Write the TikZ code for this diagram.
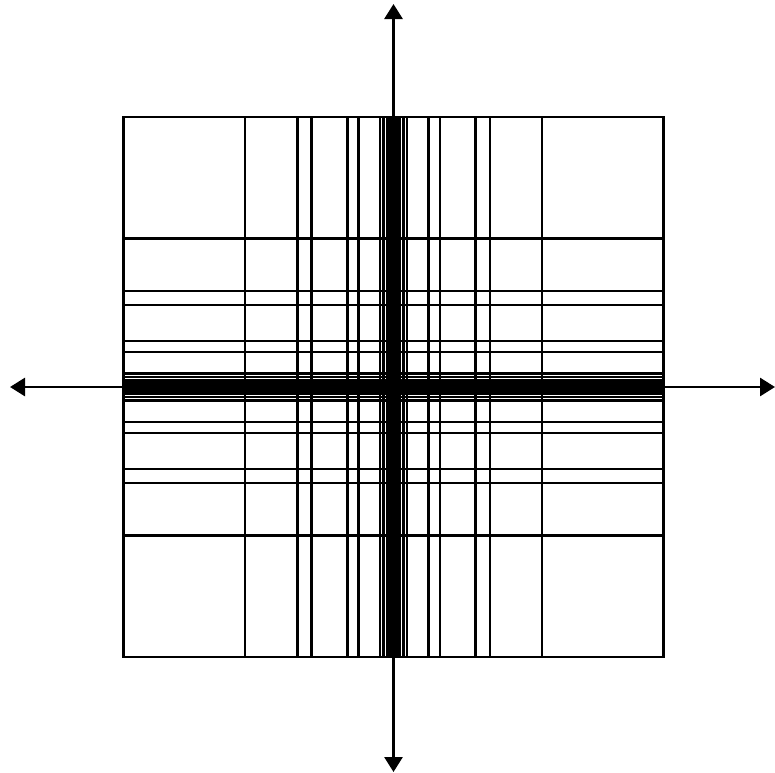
\documentclass[tikz,border=0pt]{standalone}
\usetikzlibrary{arrows.meta}
\begin{document}
\begin{tikzpicture}[x=1pt,y=-1pt,
  gridline/.style={line width=2.4pt,black},
  axisline/.style={line width=2.8pt,black,{Triangle[width=18pt,length=15pt]}-{Triangle[width=18pt,length=15pt]}}]
\useasboundingbox (0,0) rectangle (775,772);
\def\cx{393.5}
\def\cy{387}
% grid lines
\foreach \d in {10,13.6,35,46.2,82,96.2,148.6,270}{
  \draw[gridline] (\cx+\d,117) -- (\cx+\d,657);
  \draw[gridline] (\cx-\d,117) -- (\cx-\d,657);
  \draw[gridline] (123.5,\cy+\d) -- (663.5,\cy+\d);
  \draw[gridline] (123.5,\cy-\d) -- (663.5,\cy-\d);
}
% thick central bands
\fill[black] (\cx-7.8,117) rectangle (\cx+7.8,657);
\fill[black] (123.5,\cy-8) rectangle (663.5,\cy+8);
% outer square
\draw[gridline,line cap=rect] (123.5,117) rectangle (663.5,657);
% axes
\coordinate (L) at (10,\cy);
\coordinate (R) at (775,\cy);
\coordinate (T) at (\cx,4);
\coordinate (B) at (\cx,772);
\draw[axisline] (L) -- (R);
\draw[axisline] (T) -- (B);
\end{tikzpicture}
\end{document}
